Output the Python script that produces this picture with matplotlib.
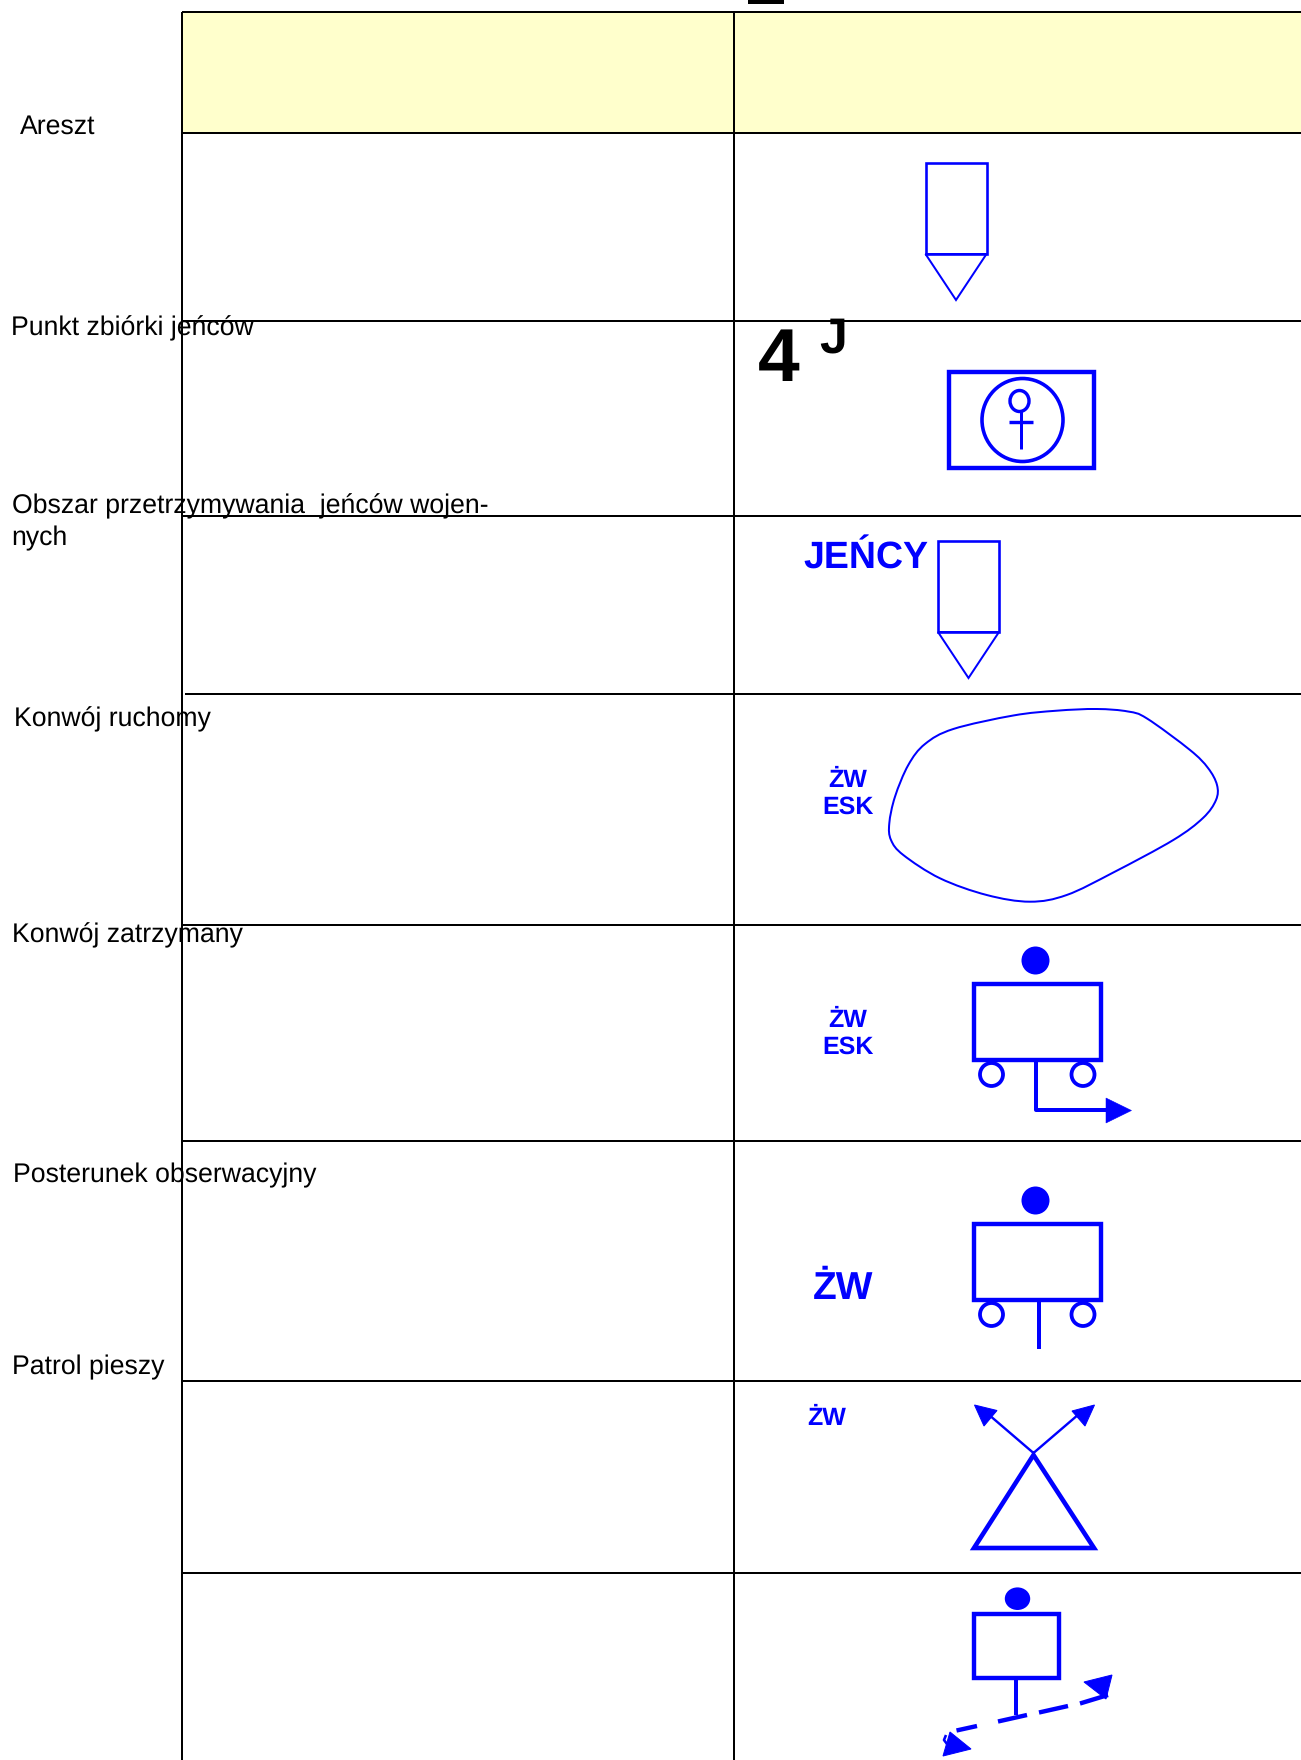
import numpy as np
import matplotlib
matplotlib.use("Agg")
import matplotlib.pyplot as plt
from matplotlib.patches import Rectangle, Ellipse, Polygon, PathPatch
from matplotlib.path import Path

plt.rcParams["text.hinting"] = "none"

W, H = 1301, 1760
BLUE = "#0000FF"
YELLOW = "#FFFFCC"
FONT = "Liberation Sans"

# table grid (pixels)
row_lines = [12, 133, 321.5, 516, 694, 925, 1141, 1381, 1573]
row_line_starts = [182, 182, 182, 182, 185, 182, 182, 182, 182]
col_lines = [182, 734]

# left column labels: text, x, baseline
row_labels = ["Areszt", "Punkt zbiórki jeńców", "Obszar przetrzymywania  jeńców wojen-", "nych",
              "Konwój ruchomy", "Konwój zatrzymany", "Posterunek obserwacyjny", "Patrol pieszy"]
row_label_x = [20, 11, 12, 11.5, 14, 11.5, 13, 11.5]
row_label_y = [134, 335, 513.5, 545, 726, 942.5, 1182, 1374.5]

# blue bold annotations: text, x centre, baseline, size
blue_labels = ["JEŃCY", "ŻW", "ESK", "ŻW", "ESK", "ŻW", "ŻW"]
blue_label_x = [866, 848, 848, 848, 848, 843, 827]
blue_label_y = [569, 787, 814, 1027, 1054, 1299, 1425]
blue_label_size = [27, 18, 18, 18, 18, 28, 18]

# black bold marks
black_labels = ["4", "J"]
black_label_x = [779, 833]
black_label_y = [381, 353]
black_label_size = [54, 36]

# outline of the area symbol
blob_x = [1096.7, 1128, 1147, 1190, 1208, 1217, 1216, 1203, 1173.3, 1113.3, 1066.7,
          1030, 986.7, 940, 903.3, 891, 889.3, 895, 908.3, 925, 953.3, 1013.3, 1056.7]
blob_y = [709, 711.5, 718.5, 750, 768, 785, 800, 818, 840, 872.5, 895,
          901.7, 895, 878.3, 855, 840, 823.3, 796.7, 765, 744, 729, 715.5, 710.7]

fig = plt.figure(figsize=(W / 100, H / 100), dpi=100, facecolor="white")
ax = fig.add_axes([0, 0, 1, 1])
ax.set_xlim(0, W)
ax.set_ylim(H, 0)
ax.axis("off")


def lw(px):
    return px * 0.72


def poly(pts, px, fill=False, joinstyle="miter"):
    ax.add_patch(Polygon(pts, closed=True, facecolor=BLUE if fill else "none", edgecolor=BLUE,
                         lw=lw(px), joinstyle=joinstyle, zorder=4))


def line(xs, ys, px, cap="butt"):
    ax.plot(xs, ys, color=BLUE, lw=lw(px), solid_capstyle=cap, zorder=4)


def rect(x0, y0, x1, y1, px):
    ax.add_patch(Rectangle((x0, y0), x1 - x0, y1 - y0, facecolor="none", edgecolor=BLUE, lw=lw(px), zorder=4))


def ell(cx, cy, rx, ry, px=0, fill=False):
    ax.add_patch(Ellipse((cx, cy), 2 * rx, 2 * ry, facecolor=BLUE if fill else "none",
                         edgecolor=BLUE, lw=lw(px), zorder=4))


# header band and grid
ax.add_patch(Rectangle((182, 12), W - 182, 121, facecolor=YELLOW, edgecolor="none", zorder=1))
for y, x0 in zip(row_lines, row_line_starts):
    ax.plot([x0, W], [y, y], color="black", lw=lw(2), zorder=2, solid_capstyle="butt")
for x in col_lines:
    ax.plot([x, x], [12, H], color="black", lw=lw(2), zorder=2, solid_capstyle="butt")
ax.add_patch(Rectangle((748, 0), 36, 4.5, facecolor="black", edgecolor="none", zorder=2))

# labels
for t, x, y in zip(row_labels, row_label_x, row_label_y):
    ax.text(x, y, t, family=FONT, fontsize=19.2, color="black", ha="left", va="baseline", zorder=5)
for t, x, y, s in zip(blue_labels, blue_label_x, blue_label_y, blue_label_size):
    ax.text(x, y, t, family=FONT, fontsize=s, weight="bold", color=BLUE, ha="center", va="baseline", zorder=5)
for t, x, y, s in zip(black_labels, black_label_x, black_label_y, black_label_size):
    ax.text(x, y, t, family=FONT, fontsize=s, weight="bold", color="black", ha="center", va="baseline", zorder=5)

# pencil symbols
for dx, dy in [(-0.5, 0), (12, 378)]:
    rect(926 + dx, 163 + dy, 987 + dx, 254 + dy, 2.6)
    poly([(926 + dx, 254 + dy), (987 + dx, 254 + dy), (956.5 + dx, 300 + dy)], 2)

# boxed figure
rect(949, 372, 1094, 468, 4.4)
ell(1022.5, 420, 40.5, 41.5, 3.6)
ell(1019.5, 401, 9.5, 10.5, 3.4)
line([1021, 1021], [411, 449], 3)
line([1009, 1033], [422, 422], 3.4)

# blob
pts = np.column_stack([blob_x, blob_y]).astype(float)
n = len(pts)
verts = [pts[0]]
codes = [Path.MOVETO]
for i in range(n):
    p0, p1, p2, p3 = pts[(i - 1) % n], pts[i], pts[(i + 1) % n], pts[(i + 2) % n]
    verts += [p1 + (p2 - p0) / 6, p2 - (p3 - p1) / 6, p2]
    codes += [Path.CURVE4] * 3
ax.add_patch(PathPatch(Path(verts, codes), facecolor="none", edgecolor=BLUE, lw=lw(2), zorder=4))

# carts
for dy in [0, 240]:
    ell(1035.5, 960.5 + dy, 14, 14, 0, True)
    rect(973.5, 984 + dy, 1101, 1060.5 + dy, 4.4)
    ell(991.5, 1074.5 + dy, 11.5, 11.5, 3.8)
    ell(1083, 1074.5 + dy, 11.5, 11.5, 3.8)
line([1035.5, 1035.5, 1108], [1060, 1110, 1110], 4)
poly([(1106, 1098), (1106, 1123), (1131.5, 1110.5)], 0.5, True)
line([1038.5, 1038.5], [1300, 1349], 4)

# triangle with two arrows
poly([(1033.5, 1455), (1094, 1548), (974, 1548)], 4.6)
line([1033.5, 988], [1453, 1414], 2.4)
line([1033.5, 1079], [1453, 1414], 2.4)
poly([(974.5, 1405), (984, 1426), (997, 1410.5)], 1, True)
poly([(1094.5, 1405), (1072, 1411), (1085, 1426)], 1, True)

# patrol symbol
ell(1017.5, 1598.7, 12.7, 11.3, 0, True)
rect(974, 1614, 1059, 1678, 4.4)
line([1016, 1016], [1678, 1715], 4)
for xs, ys in [([956.5, 977], [1730.5, 1726]), ([998, 1027], [1721.5, 1715]),
               ([1039, 1068], [1712.5, 1706]), ([1080, 1108], [1703.5, 1695])]:
    line(xs, ys, 4.4)
poly([(1112, 1675), (1084, 1682), (1106, 1699)], 1, True)
poly([(950, 1732), (971, 1749), (943, 1756)], 1, True)
line([946, 944, 947], [1735, 1740, 1744], 2.6)

fig.savefig("out.png", dpi=100, facecolor="white")
